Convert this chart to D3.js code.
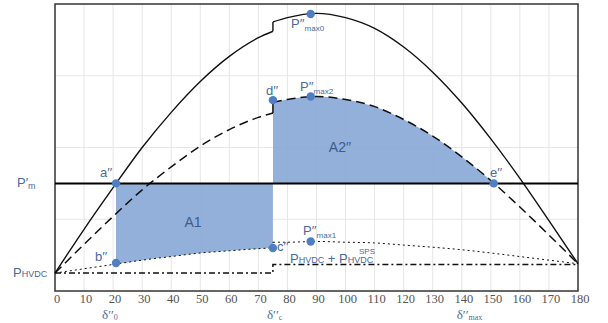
<!DOCTYPE html>
<html>
<head>
<meta charset="utf-8">
<script src="https://cdn.jsdelivr.net/npm/d3@7"></script>
<style>
  html, body { margin: 0; padding: 0; background: #fff; }
  svg { display: block; }
</style>
</head>
<body>
<svg id="chart"></svg>
<script>
// load angle (deg) samples, split at the clearing angle
const degPre = [0, 10, 20, 30, 40, 50, 60, 70, 75];
const degPost = [75, 80, 90, 100, 110, 120, 130, 140, 150, 160, 170, 180];

// P''max0 curve (solid)
const solidPre = [0.25, 0.86, 1.44, 2.00, 2.49, 2.92, 3.27, 3.53, 3.62];
const solidPost = [3.75, 3.81, 3.87, 3.81, 3.66, 3.40, 3.05, 2.62, 2.12, 1.57, 0.98, 0.38];
// P''max2 curve (dashed)
const dashedPre = [0.25, 0.65, 1.04, 1.41, 1.73, 2.02, 2.25, 2.42, 2.48];
const dashedPost = [2.63, 2.67, 2.71, 2.67, 2.57, 2.39, 2.16, 1.87, 1.54, 1.17, 0.78, 0.38];
// P''max1 curve (dotted)
const dottedPre = [0.25, 0.31, 0.37, 0.43, 0.48, 0.53, 0.56, 0.59, 0.60];
const dottedPost = [0.68, 0.68, 0.69, 0.68, 0.67, 0.64, 0.61, 0.575, 0.53, 0.48, 0.43, 0.38];
// HVDC power (dash-dot), before / after
const hvdcLevels = [0.25, 0.37];

const pm = 1.5;
const delta0 = 21, deltaC = 75, deltaMax = 151, deltaPeak = 88;
const xTicks = d3.range(0, 181, 10);

const points = [
  { name: "a", d: delta0, p: pm },
  { name: "b", d: delta0, p: 0.39 },
  { name: "c", d: deltaC, p: 0.60 },
  { name: "d", d: deltaC, p: 2.66 },
  { name: "e", d: deltaMax, p: pm },
  { name: "max0", d: deltaPeak, p: 3.86 },
  { name: "max2", d: deltaPeak, p: 2.71 },
  { name: "max1", d: deltaPeak, p: 0.69 }
];

const width = 608, height = 323;
const margin = { top: 4, right: 30, bottom: 32, left: 55 };
const blue = "#4a6a9c";

const svg = d3.select("#chart")
    .attr("width", width)
    .attr("height", height)
    .attr("viewBox", `0 0 ${width} ${height}`);

const x = d3.scaleLinear()
    .domain([0, 180])
    .range([margin.left, width - margin.right]);
const y = d3.scaleLinear()
    .domain([0, 4])
    .range([height - margin.bottom, margin.top]);

// grid
svg.append("g")
    .attr("stroke", "#e6e6e6")
    .attr("stroke-width", 1)
  .selectAll("line.v")
  .data(xTicks.slice(1, -1))
  .enter().append("line")
    .attr("x1", d => x(d)).attr("x2", d => x(d))
    .attr("y1", y(0)).attr("y2", y(4));
svg.append("g")
    .attr("stroke", "#e6e6e6")
  .selectAll("line")
  .data([1, 2, 3])
  .enter().append("line")
    .attr("x1", x(0)).attr("x2", x(180))
    .attr("y1", d => y(d)).attr("y2", d => y(d));

const pre = (vals) => degPre.map((d, i) => [d, vals[i]]);
const post = (vals) => degPost.map((d, i) => [d, vals[i]]);

// filled areas, clipped to their angle ranges
const defs = svg.append("defs");
defs.append("clipPath").attr("id", "clipA1")
  .append("rect")
    .attr("x", x(delta0)).attr("width", x(deltaC) - x(delta0))
    .attr("y", 0).attr("height", height);
defs.append("clipPath").attr("id", "clipA2")
  .append("rect")
    .attr("x", x(deltaC)).attr("width", x(deltaMax) - x(deltaC))
    .attr("y", 0).attr("height", height);

const area = d3.area()
    .x(d => x(d[0]))
    .y0(d => y(d[1]))
    .y1(y(pm))
    .curve(d3.curveMonotoneX);

svg.append("path")
    .datum(pre(dottedPre))
    .attr("clip-path", "url(#clipA1)")
    .attr("fill", "#8aa9d8")
    .attr("fill-opacity", 0.92)
    .attr("d", area);
svg.append("path")
    .datum(post(dashedPost))
    .attr("clip-path", "url(#clipA2)")
    .attr("fill", "#8aa9d8")
    .attr("fill-opacity", 0.92)
    .attr("d", area);

// frame
svg.append("rect")
    .attr("x", x(0)).attr("y", y(4))
    .attr("width", x(180) - x(0)).attr("height", y(0) - y(4))
    .attr("fill", "none")
    .attr("stroke", "#333")
    .attr("stroke-width", 1.5);

const line = d3.line()
    .x(d => x(d[0]))
    .y(d => y(d[1]))
    .curve(d3.curveMonotoneX);

const lineStep = d3.line()
    .x(d => x(d[0]))
    .y(d => y(d[1]));

// pre and post segments joined by a vertical step at the clearing angle
function curve(a, b, dash, w) {
  const g = svg.append("g")
      .attr("fill", "none")
      .attr("stroke", "#111")
      .attr("stroke-width", w)
      .attr("stroke-dasharray", dash);
  g.append("path").attr("d", line(pre(a)));
  g.append("path").attr("d", line(post(b)));
  g.append("path").attr("d", lineStep([[deltaC, a[a.length - 1]], [deltaC, b[0]]]));
}

curve(solidPre, solidPost, null, 1.4);
curve(dashedPre, dashedPost, "9,5", 1.5);
curve(dottedPre, dottedPost, "2,3", 1);

// HVDC dash-dot
svg.append("path")
    .attr("fill", "none")
    .attr("stroke", "#111")
    .attr("stroke-width", 1.5)
    .attr("stroke-dasharray", "6,3,2,3")
    .attr("d", lineStep([[0, hvdcLevels[0]], [deltaC, hvdcLevels[0]],
                         [deltaC, hvdcLevels[1]], [180, hvdcLevels[1]]]));

// P'm line
svg.append("line")
    .attr("x1", x(0)).attr("x2", x(180))
    .attr("y1", y(pm)).attr("y2", y(pm))
    .attr("stroke", "#000")
    .attr("stroke-width", 2);

// points
svg.append("g")
    .attr("fill", "#4f7fc2")
  .selectAll("circle")
  .data(points)
  .enter().append("circle")
    .attr("cx", d => x(d.d))
    .attr("cy", d => y(d.p))
    .attr("r", 4.2);

// x tick labels
svg.append("g")
    .attr("fill", "#555")
    .attr("text-anchor", "middle")
    .style("font", "12.5px 'Liberation Serif', serif")
  .selectAll("text")
  .data(xTicks)
  .enter().append("text")
    .attr("x", d => x(d) + 2)
    .attr("y", 303)
    .text(d => d);

// annotation helper: main text + optional sub
function label(px, py, main, sub, opts = {}) {
  const t = svg.append("text")
      .attr("x", px).attr("y", py)
      .attr("fill", blue)
      .style("font-family", "'Liberation Sans', Arial, sans-serif")
      .style("font-size", (opts.size || 13) + "px");
  t.append("tspan").text(main);
  if (sub) {
    t.append("tspan")
        .attr("dy", opts.subDy == null ? 3 : opts.subDy)
        .style("font-size", (opts.subSize || 8) + "px")
        .text(sub);
  }
  return t;
}

label(291, 28, "P′′", "max0");
label(300, 91, "P′′", "max2");
label(303, 235, "P′′", "max1");
label(266, 95, "d′′");
label(100, 177, "a′′");
label(95, 261, "b′′");
label(277, 251, "c′′");
label(490, 177, "e′′");
label(17, 187, "P′", "m", { subSize: 9, subDy: 2 });
label(13, 277, "P", "HVDC", { subSize: 9, subDy: 0 });

// P_HVDC + P^SPS_HVDC
const hv = svg.append("text")
    .attr("x", 290).attr("y", 263)
    .attr("fill", blue)
    .style("font-family", "'Liberation Sans', Arial, sans-serif")
    .style("font-size", "13px");
hv.append("tspan").text("P");
hv.append("tspan").style("font-size", "9px").text("HVDC");
hv.append("tspan").text(" + P");
hv.append("tspan").style("font-size", "9px").text("HVDC");
svg.append("text")
    .attr("x", 359).attr("y", 254)
    .attr("fill", blue)
    .style("font-family", "'Liberation Sans', Arial, sans-serif")
    .style("font-size", "8px")
    .text("SPS");

// area labels
svg.append("text")
    .attr("x", 193).attr("y", 227)
    .attr("text-anchor", "middle")
    .attr("fill", "#3d5c8c")
    .style("font", "14px 'Liberation Sans', Arial, sans-serif")
    .text("A1");
svg.append("text")
    .attr("x", 340).attr("y", 152)
    .attr("text-anchor", "middle")
    .attr("fill", "#3d5c8c")
    .style("font", "14px 'Liberation Sans', Arial, sans-serif")
    .text("A2′′");

// delta labels under the axis
const dl = (px, sub) => {
  const t = svg.append("text")
      .attr("x", px).attr("y", 319)
      .attr("fill", blue)
      .style("font-family", "'Liberation Serif', serif")
      .style("font-size", "13px");
  t.append("tspan").text("δ′′");
  t.append("tspan").attr("dy", 1).style("font-size", "8px").text(sub);
};
dl(x(delta0) - 14, "0");
dl(x(deltaC) - 6, "c");
dl(x(deltaMax) - 37, "max");
</script>
</body>
</html>
